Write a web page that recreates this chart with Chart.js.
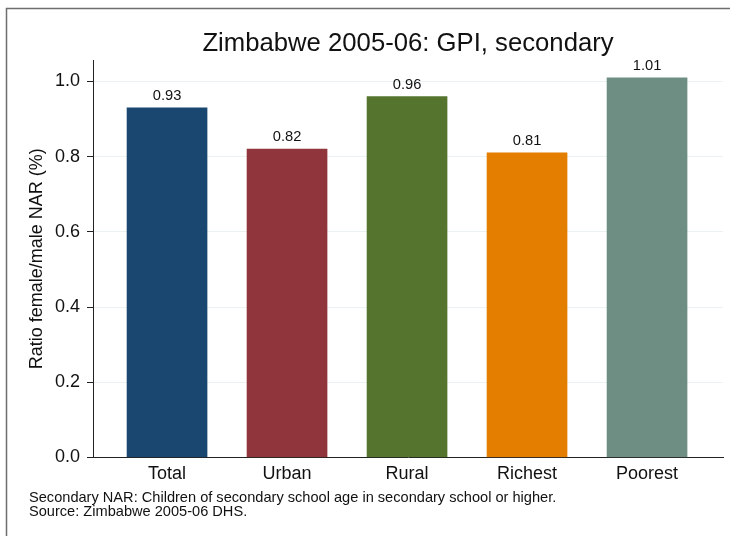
<!DOCTYPE html>
<html>
<head>
<meta charset="utf-8">
<script src="https://cdn.jsdelivr.net/npm/chart.js@4.4.1/dist/chart.umd.min.js"></script>
<style>
  html, body { margin: 0; padding: 0; background: #ffffff; }
  #wrap { width: 730px; height: 536px; position: relative; }
  canvas { display: block; }
</style>
</head>
<body>
<div id="wrap"><canvas id="c" width="730" height="536"></canvas></div>
<script>
const categories = ["Total", "Urban", "Rural", "Richest", "Poorest"];
const gpiValues = [0.93, 0.82, 0.96, 0.81, 1.01];
const valueLabels = ["0.93", "0.82", "0.96", "0.81", "1.01"];
const barColors = ["#1a476f", "#90353b", "#55752f", "#e37e00", "#6e8e84"];
const yTicks = [0, 0.2, 0.4, 0.6, 0.8, 1.0];
const yTickLabels = ["0.0", "0.2", "0.4", "0.6", "0.8", "1.0"];
const titleText = "Zimbabwe 2005-06: GPI, secondary";
const yTitle = "Ratio female/male NAR (%)";
const notes = [
  "Secondary NAR: Children of secondary school age in secondary school or higher.",
  "Source: Zimbabwe 2005-06 DHS."
];

const FONT = "'Liberation Sans', Arial, Helvetica, sans-serif";

const framePlugin = {
  id: 'frame',
  beforeDraw(chart) {
    const ctx = chart.ctx;
    ctx.save();
    ctx.fillStyle = '#ffffff';
    ctx.fillRect(0, 0, chart.width, chart.height);
    ctx.strokeStyle = '#6e6e6e';
    ctx.lineWidth = 1.5;
    ctx.beginPath();
    ctx.moveTo(6.5, chart.height);
    ctx.lineTo(6.5, 8.5);
    ctx.lineTo(chart.width, 8.5);
    ctx.stroke();
    ctx.restore();
  }
};

const labelPlugin = {
  id: 'valueLabels',
  afterDatasetsDraw(chart) {
    const ctx = chart.ctx;
    const meta = chart.getDatasetMeta(0);
    ctx.save();
    ctx.fillStyle = '#111111';
    ctx.font = "14.7px " + FONT;
    ctx.textAlign = 'center';
    ctx.textBaseline = 'alphabetic';
    meta.data.forEach((bar, i) => {
      ctx.fillText(valueLabels[i], bar.x, bar.y - 8);
    });
    ctx.restore();
  }
};

const notesPlugin = {
  id: 'notes',
  afterDraw(chart) {
    const ctx = chart.ctx;
    ctx.save();
    ctx.fillStyle = '#111111';
    ctx.font = "14.6px " + FONT;
    ctx.textAlign = 'left';
    ctx.textBaseline = 'alphabetic';
    notes.forEach((t, i) => ctx.fillText(t, 29, 502 + i * 13.5));
    ctx.restore();
  }
};

new Chart(document.getElementById('c'), {
  type: 'bar',
  data: {
    datasets: [{
      data: gpiValues.map((v, i) => ({ x: i, y: v })),
      backgroundColor: barColors,
      borderWidth: 0,
      barThickness: 80
    }]
  },
  options: {
    responsive: false,
    animation: false,
    devicePixelRatio: 1,
    layout: { padding: { left: 0, right: 7, top: 0, bottom: 0 } },
    plugins: {
      legend: { display: false },
      tooltip: { enabled: false },
      title: {
        display: true,
        fullSize: false,
        text: titleText,
        color: '#111111',
        font: { family: FONT, size: 25.7, weight: 'normal', lineHeight: 1.2 },
        padding: { top: 28, bottom: 1.2 }
      }
    },
    scales: {
      x: {
        type: 'linear',
        offset: false,
        min: -0.617,
        max: 4.633,
        grid: { display: false, offset: false, drawTicks: false, tickLength: 0 },
        border: { display: true, color: '#222222', width: 1 },
        afterBuildTicks(scale) { scale.ticks = categories.map((c, i) => ({ value: i })); },
        afterFit(scale) { scale.height = 78.5; },
        ticks: {
          autoSkip: false,
          maxRotation: 0,
          padding: 6,
          color: '#111111',
          font: { family: FONT, size: 18 },
          callback: (v) => categories[v]
        }
      },
      y: {
        min: 0,
        max: 1.057,
        afterBuildTicks(scale) { scale.ticks = yTicks.map(v => ({ value: v })); },
        afterFit(scale) { scale.width = 93; },
        grid: {
          color: (c) => (c.tick && c.tick.value === 0) ? 'rgba(0,0,0,0)' : '#eaf2f3',
          tickColor: '#222222',
          tickLength: 6,
          lineWidth: 1
        },
        border: { display: true, color: '#222222', width: 1 },
        ticks: {
          padding: 7,
          color: '#111111',
          font: { family: FONT, size: 18 },
          callback: (v) => yTickLabels[yTicks.findIndex(t => Math.abs(t - v) < 1e-9)]
        },
        title: {
          display: true,
          text: yTitle,
          color: '#111111',
          font: { family: FONT, size: 18 },
          padding: { top: 26, bottom: 0 }
        }
      }
    }
  },
  plugins: [framePlugin, labelPlugin, notesPlugin]
});
</script>
</body>
</html>
